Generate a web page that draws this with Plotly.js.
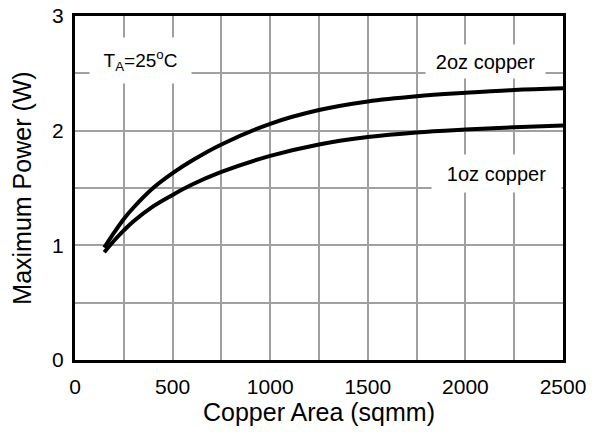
<!DOCTYPE html>
<html>
<head>
<meta charset="utf-8">
<script src="https://cdn.plot.ly/plotly-3.0.1.min.js"></script>
<style>html,body{margin:0;padding:0;background:#fff;}#chart{width:605px;height:432px;}</style>
</head>
<body>
<div id="chart"></div>
<script>
const area = [150, 200, 250, 300, 400, 500, 600, 750, 1000, 1250, 1500, 1750, 2000, 2250, 2500];
const power2oz = [0.98, 1.11, 1.23, 1.33, 1.50, 1.63, 1.74, 1.88, 2.06, 2.18, 2.255, 2.30, 2.33, 2.355, 2.37];
const power1oz = [0.94, 1.04, 1.13, 1.21, 1.34, 1.44, 1.53, 1.64, 1.78, 1.88, 1.945, 1.985, 2.01, 2.03, 2.045];
const xTicks = [0, 500, 1000, 1500, 2000, 2500];
const yTicks = [0, 1, 2, 3];

const FONT = 'Liberation Sans, Arial, sans-serif';
const traces = [
  {x: area, y: power2oz, mode: 'lines', name: '2oz copper', line: {color: '#000', width: 4, shape: 'spline'}},
  {x: area, y: power1oz, mode: 'lines', name: '1oz copper', line: {color: '#000', width: 4, shape: 'spline'}}
];
const gridColor = '#a0a0a0';
const layout = {
  width: 605, height: 432,
  margin: {l: 75, r: 42, t: 16, b: 72},
  paper_bgcolor: '#fff', plot_bgcolor: '#fff',
  showlegend: false,
  font: {family: FONT, color: '#000'},
  xaxis: {
    range: [0, 2500], tickvals: xTicks, ticktext: xTicks.map(String),
    showgrid: true, gridcolor: gridColor, gridwidth: 2,
    minor: {dtick: 250, tick0: 0, showgrid: true, gridcolor: gridColor, gridwidth: 2},
    showline: true, linecolor: '#000', linewidth: 3, mirror: true,
    zeroline: false, ticks: '', ticklabelstandoff: 6,
    tickfont: {size: 21, family: FONT, color: '#000'},
    title: {text: 'Copper Area (sqmm)', font: {size: 25, family: FONT, color: '#000'}, standoff: 6},
    fixedrange: true
  },
  yaxis: {
    range: [0, 3], tickvals: yTicks, ticktext: yTicks.map(String),
    showgrid: true, gridcolor: gridColor, gridwidth: 2,
    minor: {dtick: 0.5, tick0: 0, showgrid: true, gridcolor: gridColor, gridwidth: 2},
    showline: true, linecolor: '#000', linewidth: 3, mirror: true,
    zeroline: false, ticks: '', ticklabelstandoff: 4,
    tickfont: {size: 21, family: FONT, color: '#000'},
    title: {text: 'Maximum Power (W)', font: {size: 25, family: FONT, color: '#000'}, standoff: 14},
    fixedrange: true
  },
  annotations: [
    {x: 333, y: 2.61, xref: 'x', yref: 'y', text: 'T<sub>A</sub>=25<sup>o</sup>C', showarrow: false,
     bgcolor: '#fff', width: 99, height: 43, font: {size: 19, family: FONT, color: '#000'}},
    {x: 2105, y: 2.60, xref: 'x', yref: 'y', text: '2oz copper', showarrow: false,
     bgcolor: '#fff', width: 117, height: 31, font: {size: 20, family: FONT, color: '#000'}},
    {x: 2160, y: 1.63, xref: 'x', yref: 'y', text: '1oz copper', showarrow: false,
     bgcolor: '#fff', width: 127, height: 35, font: {size: 20, family: FONT, color: '#000'}}
  ]
};
Plotly.newPlot('chart', traces, layout, {displayModeBar: false, staticPlot: true});
</script>
</body>
</html>
